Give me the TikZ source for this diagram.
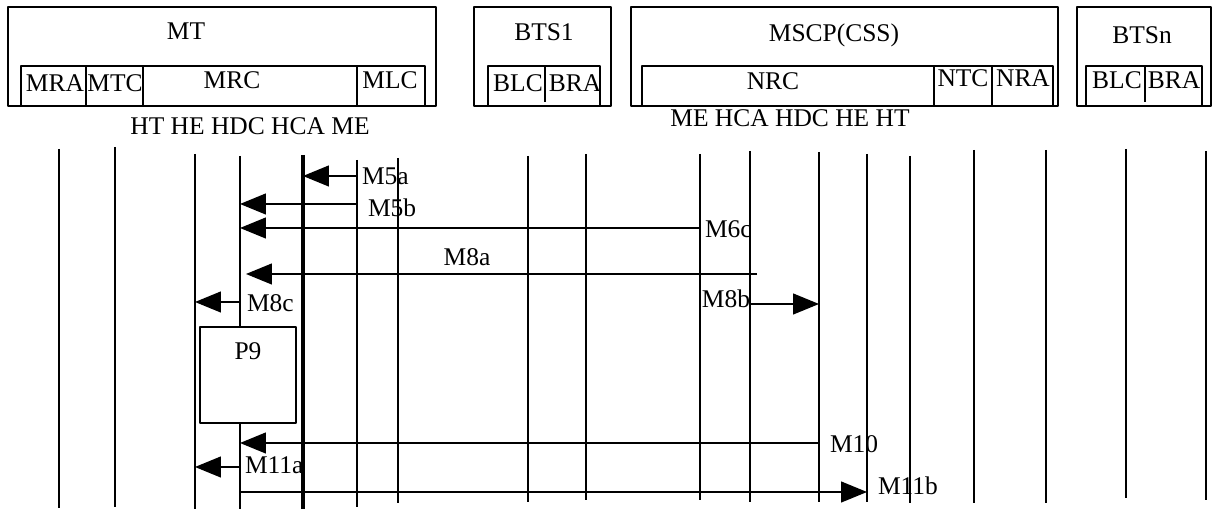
\documentclass[tikz,border=0pt]{standalone}
\usepackage{fontspec}
\setmainfont{Liberation Serif}
\usepackage{tikz}
\usetikzlibrary{arrows.meta,positioning,calc,fit}
\tikzset{
    every picture/.style={line join=round},
    unitbox/.style={draw=black,line width=0.75pt,inner sep=0pt,outer sep=0pt},
    procbox/.style={unitbox,fill=white},
    boxtext/.style={inner sep=0pt,outer sep=0pt,font=\fontsize{14.5}{17}\selectfont},
    lifeline/.style={draw=black,line width=0.75pt},
    mainline/.style={draw=black,line width=1.9pt},
    msgline/.style={draw=black,line width=0.75pt},
    msgarrow/.style={-{Triangle[length=5.2mm,width=4.2mm]},draw=black,line width=0.75pt}
}

\begin{document}
\begin{tikzpicture}[x=0.02cm,y=-0.02cm]
    \useasboundingbox (0,0) rectangle (1215,509);
    % entities
    \node[unitbox,fit={(8,7) (436,106)}] (mt) {};
    \node[unitbox,fit={(21,66) (86,106)}] (mra) {};
    \node[unitbox,fit={(86,66) (143,106)}] (mtc) {};
    \node[unitbox,fit={(143,66) (357,106)}] (mrc) {};
    \node[unitbox,fit={(357,66) (425,106)}] (mlc) {};
    \node[unitbox,fit={(474,7) (611,106)}] (bts1) {};
    \node[unitbox,fit={(488,66) (600,106)}] (bts1in) {};
    \draw[msgline] (545,66) -- (545,102);
    \node[unitbox,fit={(631,7) (1058,106)}] (mscp) {};
    \node[unitbox,fit={(642,66) (934,106)}] (nrc) {};
    \node[unitbox,fit={(934,66) (992,106)}] (ntc) {};
    \node[unitbox,fit={(992,66) (1053,106)}] (nra) {};
    \node[unitbox,fit={(1077,7) (1211,106)}] (btsn) {};
    \node[unitbox,fit={(1086,66) (1202,106)}] (btsnin) {};
    \draw[msgline] (1145,66) -- (1145,102);

    \node[boxtext] (mtlbl) at (186,31) {MT};
    \node[boxtext] (mralbl) at (55,83) {MRA};
    \node[boxtext] (mtclbl) at (115,83) {MTC};
    \node[boxtext] (mrclbl) at (232,80) {MRC};
    \node[boxtext] (mlclbl) at (390,80) {MLC};
    \node[boxtext] (mthdr) at (250,126) {HT HE HDC HCA ME};
    \node[boxtext] (bts1lbl) at (544,32) {BTS1};
    \node[boxtext] (blc1lbl) at (518,83) {BLC};
    \node[boxtext] (bra1lbl) at (575,83) {BRA};
    \node[boxtext] (mscplbl) at (834,35) {MSCP(CSS)};
    \node[boxtext] (nrclbl) at (773,81) {NRC};
    \node[boxtext] (ntclbl) at (963,78) {NTC};
    \node[boxtext] (nralbl) at (1023,78) {NRA};
    \node[boxtext] (mscphdr) at (790,118) {ME HCA HDC HE HT};
    \node[boxtext] (btsnlbl) at (1142,35) {BTSn};
    \node[boxtext] (blcnlbl) at (1117,80) {BLC};
    \node[boxtext] (branlbl) at (1174,80) {BRA};

    % lifelines
    \foreach \n/\x/\t/\b/\s in {1/59/149/508/lifeline,2/115/147/507/lifeline,
        3/195/154/509/lifeline,4/240/156/509/lifeline,5/303/155/509/mainline,
        6/357/160/507/lifeline,7/398/158/503/lifeline,8/528/156/502/lifeline,
        9/586/154/500/lifeline,10/700/154/500/lifeline,11/750/151/502/lifeline,
        12/819/152/502/lifeline,13/867/154/502/lifeline,14/910/156/503/lifeline,
        15/974/150/503/lifeline,16/1046/150/503/lifeline,17/1126/149/498/lifeline,
        18/1206/151/500/lifeline}{
        \coordinate (l\n) at (\x,\t);
        \coordinate (l\n e) at (\x,\b);
        \draw[\s] (l\n) -- (l\n e);
    }

    % message rows
    \coordinate (m5a) at (0,176);
    \coordinate (m5b) at (0,204);
    \coordinate (m6c) at (0,228);
    \coordinate (m8a) at (0,274);
    \coordinate (m8c) at (0,302);
    \coordinate (m8b) at (0,304);
    \coordinate (m10) at (0,443);
    \coordinate (m11a) at (0,467);
    \coordinate (m11b) at (0,492);
    \coordinate (m8aend) at (757,274);
    \coordinate (m8atip) at (246,274);

    \draw[msgarrow] (l6 |- m5a) -- (l5 |- m5a);
    \draw[msgarrow] (l6 |- m5b) -- (l4 |- m5b);
    \draw[msgarrow] (l10 |- m6c) -- (l4 |- m6c);
    \draw[msgarrow] (m8aend) -- (m8atip);
    \draw[msgarrow] (l4 |- m8c) -- (l3 |- m8c);
    \draw[msgarrow] (l11 |- m8b) -- (l12 |- m8b);
    \draw[msgarrow] (l12 |- m10) -- (l4 |- m10);
    \draw[msgarrow] (l4 |- m11a) -- (l3 |- m11a);
    \draw[msgarrow] (l4 |- m11b) -- (l13 |- m11b);

    \node[boxtext,anchor=west] (t5a) at (362,176) {M5a};
    \node[boxtext,anchor=west] (t5b) at (368,208) {M5b};
    \node[boxtext,anchor=west] (t6c) at (705,229) {M6c};
    \node[boxtext] (t8a) at (467,257) {M8a};
    \node[boxtext,anchor=west] (t8c) at (247,303) {M8c};
    \node[boxtext,anchor=east] (t8b) at (750,299) {M8b};
    \node[boxtext,anchor=west] (t10) at (830,444) {M10};
    \node[boxtext,anchor=west] (t11a) at (245,465) {M11a};
    \node[boxtext,anchor=west] (t11b) at (878,486) {M11b};

    % procedure
    \node[procbox,fit={(200,327) (296,423)}] (p9) {};
    \node[boxtext] (p9lbl) at (248,351) {P9};
\end{tikzpicture}
\end{document}
